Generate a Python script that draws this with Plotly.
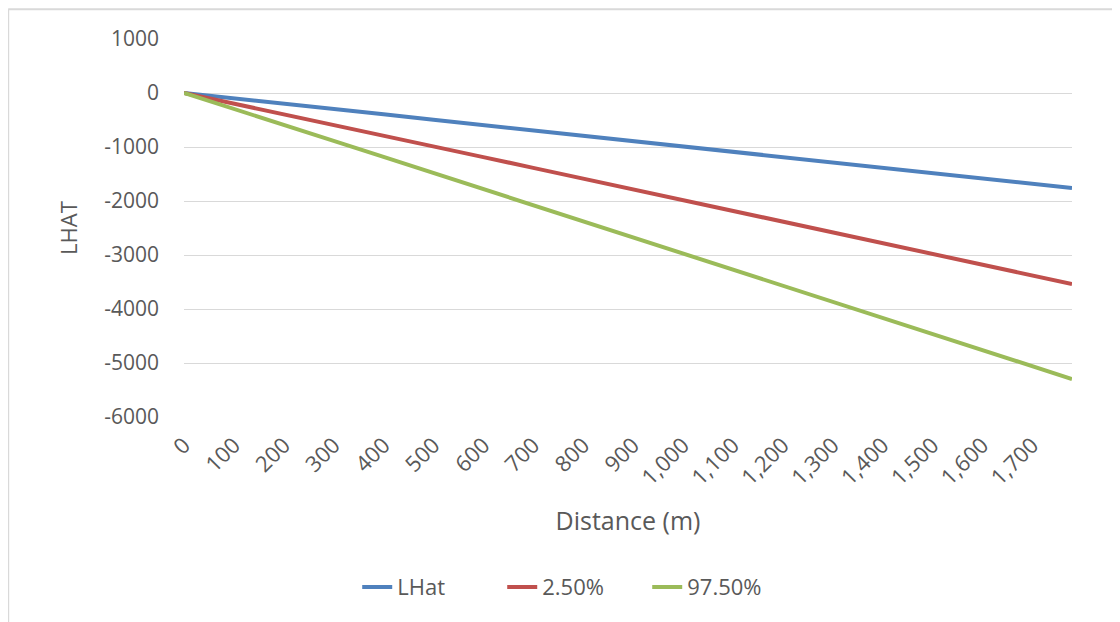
"""LHat with 2.5% / 97.5% envelope against distance."""

import plotly.graph_objects as go

# Distance (m) and series values
distance = [0, 100, 200, 300, 400, 500, 600, 700, 800, 900, 1000,
            1100, 1200, 1300, 1400, 1500, 1600, 1700, 1780]
lhat = [0, -95, -195, -295, -395, -495, -593, -692, -791, -890, -989,
        -1088, -1187, -1286, -1385, -1484, -1583, -1682, -1761]
lo_25 = [0, -195, -393, -592, -790, -989, -1187, -1386, -1585, -1783, -1982,
         -2180, -2379, -2577, -2776, -2975, -3173, -3372, -3537]
hi_975 = [0, -290, -588, -886, -1184, -1482, -1780, -2078, -2376, -2674, -2972,
          -3270, -3568, -3866, -4164, -4462, -4760, -5058, -5296]

x_ticks = [0, 100, 200, 300, 400, 500, 600, 700, 800, 900, 1000,
           1100, 1200, 1300, 1400, 1500, 1600, 1700]
y_ticks = [1000, 0, -1000, -2000, -3000, -4000, -5000, -6000]
y_labels = ["1000", "0", "-1000", "-2000", "-3000", "-4000", "-5000", "-6000"]

FONT = "Open Sans"
GREY = "#595959"

fig = go.Figure()
for name, ys, color in [("LHat", lhat, "#4F81BD"),
                        ("2.50%", lo_25, "#C0504D"),
                        ("97.50%", hi_975, "#9BBB59")]:
    fig.add_trace(go.Scatter(x=distance, y=ys, name=name, mode="lines",
                             line=dict(color=color, width=4)))

# page body has an 8px margin, so the figure is 8px smaller than the window
fig.update_layout(
    width=1112, height=614,
    margin=dict(l=176, r=48, t=31, b=205),
    paper_bgcolor="white", plot_bgcolor="white",
    font=dict(family=FONT, size=21, color=GREY),
    legend=dict(orientation="h", x=0.44, xanchor="center", y=-0.45, yanchor="middle",
                font=dict(size=22, color=GREY), entrywidth=100, entrywidthmode="pixels"),
    showlegend=True,
    shapes=[
        # chart frame (only top and left edges visible)
        dict(type="line", xref="paper", yref="paper", x0=-0.198, x1=1.2, y0=1.079, y1=1.079,
             line=dict(color="#D9D9D9", width=2)),
        dict(type="line", xref="paper", yref="paper", x0=-0.198, x1=-0.198, y0=1.079, y1=-0.6,
             line=dict(color="#D9D9D9", width=2)),
    ],
)

fig.update_xaxes(
    range=[0, 1780], tickvals=x_ticks, tickformat=",", tickangle=-45,
    showgrid=False, zeroline=False, showline=False, ticks="",
    ticklabelstandoff=10, tickfont=dict(size=22),
    title=dict(text="Distance (m)", font=dict(size=25, color=GREY), standoff=22),
)
fig.update_yaxes(
    range=[-6000, 1000], tickvals=y_ticks, ticktext=y_labels,
    showgrid=True, gridcolor="#D9D9D9", gridwidth=1,
    zeroline=False, showline=False, ticks="", ticklabelstandoff=24,
    tickfont=dict(size=21),
    title=dict(text="LHAT", font=dict(size=22, color=GREY), standoff=20),
)

fig.write_html("out.html")
